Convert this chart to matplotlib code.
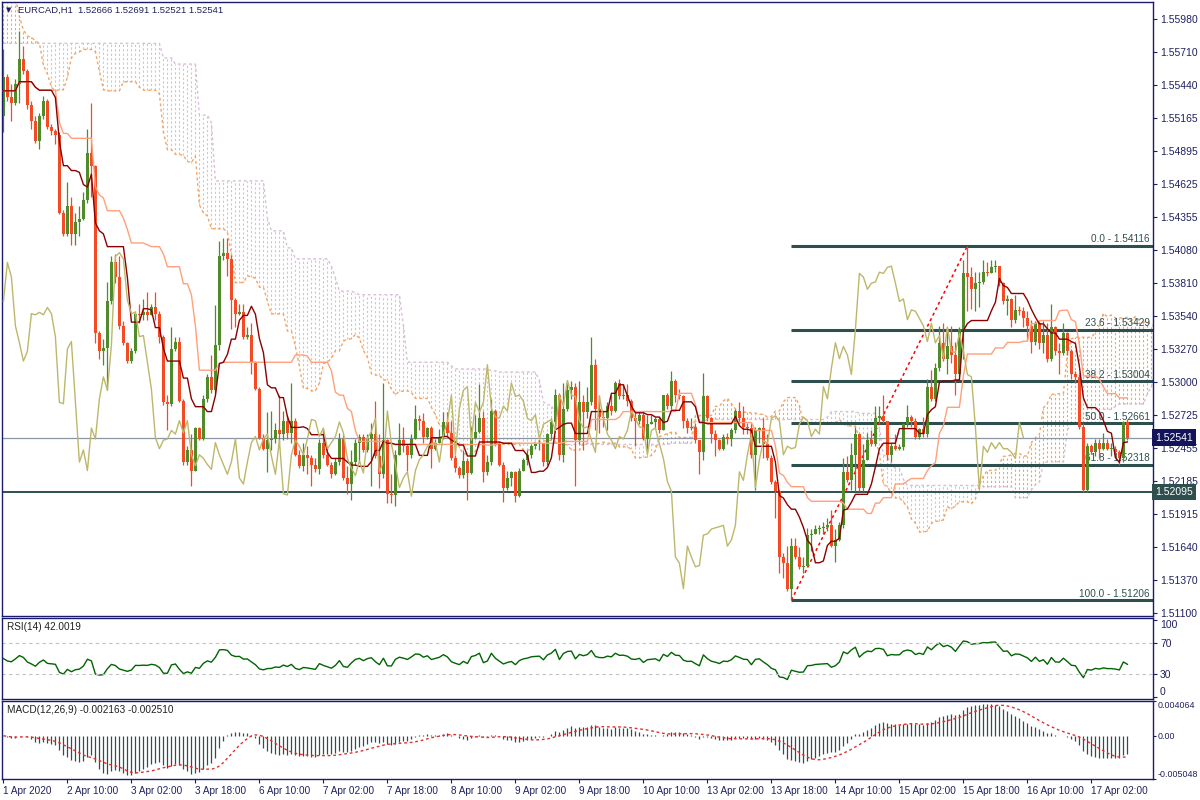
import numpy as np
import pandas as pd
import matplotlib
matplotlib.use("Agg")
import matplotlib.pyplot as plt
import matplotlib.transforms as mtransforms

# =========================================================================================
# EURCAD H1 - prices (one value per hourly bar)
first_open = 1.5518

closes = [
    1.5550, 1.5534, 1.5529, 1.5545, 1.5565, 1.5555, 1.5527, 1.5514, 1.5498, 1.5518,
    1.5531, 1.5509, 1.5506, 1.5503, 1.5439, 1.5421, 1.5444, 1.5421, 1.5431, 1.5434,
    1.5449, 1.5488, 1.5477, 1.5340, 1.5325, 1.5328, 1.5366, 1.5398, 1.5386, 1.5346,
    1.5332, 1.5317, 1.5325, 1.5356, 1.5355, 1.5357, 1.5355, 1.5361, 1.5356, 1.5337,
    1.5283, 1.5282, 1.5327, 1.5333, 1.5284, 1.5234, 1.5244, 1.5227, 1.5262, 1.5253,
    1.5286, 1.5304, 1.5293, 1.5330, 1.5403, 1.5406, 1.5401, 1.5367, 1.5356, 1.5357,
    1.5337, 1.5338, 1.5316, 1.5294, 1.5254, 1.5245, 1.5252, 1.5253, 1.5260, 1.5257,
    1.5268, 1.5258, 1.5268, 1.5240, 1.5231, 1.5240, 1.5237, 1.5232, 1.5228, 1.5250,
    1.5240, 1.5232, 1.5224, 1.5234, 1.5253, 1.5221, 1.5216, 1.5234, 1.5250, 1.5255,
    1.5244, 1.5253, 1.5257, 1.5239, 1.5224, 1.5252, 1.5208, 1.5207, 1.5240, 1.5252,
    1.5247, 1.5240, 1.5253, 1.5269, 1.5268, 1.5255, 1.5262, 1.5245, 1.5250, 1.5255,
    1.5267, 1.5258, 1.5237, 1.5229, 1.5223, 1.5235, 1.5225, 1.5254, 1.5259, 1.5270,
    1.5226, 1.5234, 1.5276, 1.5249, 1.5232, 1.5213, 1.5221, 1.5226, 1.5206, 1.5227,
    1.5236, 1.5240, 1.5247, 1.5249, 1.5250, 1.5234, 1.5257, 1.5267, 1.5289, 1.5240,
    1.5278, 1.5293, 1.5296, 1.5252, 1.5283, 1.5275, 1.5283, 1.5314, 1.5278, 1.5271,
    1.5270, 1.5280, 1.5276, 1.5299, 1.5288, 1.5289, 1.5284, 1.5270, 1.5268, 1.5273,
    1.5253, 1.5265, 1.5267, 1.5269, 1.5260, 1.5289, 1.5280, 1.5301, 1.5289, 1.5288,
    1.5268, 1.5262, 1.5263, 1.5252, 1.5242, 1.5288, 1.5270, 1.5257, 1.5252, 1.5245,
    1.5255, 1.5253, 1.5260, 1.5276, 1.5270, 1.5263, 1.5262, 1.5240, 1.5260, 1.5262,
    1.5249, 1.5237, 1.5218, 1.5210, 1.5156, 1.5151, 1.5130, 1.5165, 1.5156, 1.5148,
    1.5149, 1.5174, 1.5175, 1.5179, 1.5180, 1.5181, 1.5182, 1.5165, 1.5170, 1.5182,
    1.5226, 1.5219, 1.5240, 1.5257, 1.5213, 1.5236, 1.5252, 1.5249, 1.5270, 1.5272,
    1.5268, 1.5240, 1.5247, 1.5245, 1.5246, 1.5265, 1.5271, 1.5268, 1.5255, 1.5261,
    1.5257, 1.5296, 1.5286, 1.5311, 1.5332, 1.5319, 1.5329, 1.5322, 1.5306, 1.5343,
    1.5389, 1.5386, 1.5376, 1.5381, 1.5382, 1.5390, 1.5389, 1.5394, 1.5395, 1.5381,
    1.5366, 1.5368, 1.5351, 1.5359, 1.5358, 1.5352, 1.5346, 1.5333, 1.5348, 1.5332,
    1.5338, 1.5319, 1.5345, 1.5325, 1.5324, 1.5340, 1.5325, 1.5306, 1.5304, 1.5263,
    1.5211, 1.5247, 1.5242, 1.5250, 1.5245, 1.5250, 1.5245, 1.5245, 1.5242, 1.5237,
    1.52666, 1.52541,
]

highs = [
    1.5573, 1.5553, 1.5545, 1.5549, 1.5588, 1.5576, 1.5557, 1.5531, 1.5518, 1.5521,
    1.5535, 1.5532, 1.5512, 1.5508, 1.5505, 1.5441, 1.5464, 1.5452, 1.5439, 1.5444,
    1.5456, 1.5508, 1.5529, 1.5478, 1.5342, 1.5335, 1.5382, 1.5403, 1.5405, 1.5403,
    1.5350, 1.5333, 1.5328, 1.5358, 1.5364, 1.5368, 1.5374, 1.5364, 1.5374, 1.5358,
    1.5338, 1.5289, 1.5345, 1.5337, 1.5337, 1.5286, 1.5247, 1.5257, 1.5263, 1.5263,
    1.5289, 1.5306, 1.5322, 1.5363, 1.5416, 1.5418, 1.5418, 1.5404, 1.5369, 1.5364,
    1.5364, 1.5345, 1.5348, 1.5317, 1.5296, 1.5257, 1.5275, 1.5276, 1.5266, 1.5289,
    1.5276, 1.5273, 1.5299, 1.5270, 1.5244, 1.5250, 1.5247, 1.5240, 1.5237, 1.5253,
    1.5260, 1.5247, 1.5234, 1.5237, 1.5258, 1.5257, 1.5231, 1.5244, 1.5253, 1.5257,
    1.5257, 1.5257, 1.5266, 1.5284, 1.5257, 1.5299, 1.5253, 1.5224, 1.5244, 1.5266,
    1.5263, 1.5249, 1.5257, 1.5281, 1.5273, 1.5274, 1.5263, 1.5264, 1.5253, 1.5261,
    1.5275, 1.5275, 1.5268, 1.5240, 1.5231, 1.5244, 1.5237, 1.5263, 1.5273, 1.5298,
    1.5276, 1.5240, 1.5286, 1.5278, 1.5250, 1.5234, 1.5227, 1.5227, 1.5227, 1.5229,
    1.5237, 1.5244, 1.5249, 1.5250, 1.5252, 1.5250, 1.5258, 1.5270, 1.5294, 1.5291,
    1.5299, 1.5301, 1.5301, 1.5299, 1.5301, 1.5289, 1.5296, 1.5337, 1.5319, 1.5289,
    1.5276, 1.5283, 1.5289, 1.5301, 1.5302, 1.5298, 1.5298, 1.5286, 1.5275, 1.5276,
    1.5275, 1.5273, 1.5273, 1.5271, 1.5271, 1.5289, 1.5291, 1.5309, 1.5302, 1.5294,
    1.5289, 1.5270, 1.5270, 1.5266, 1.5247, 1.5307, 1.5289, 1.5271, 1.5260, 1.5253,
    1.5257, 1.5258, 1.5262, 1.5278, 1.5283, 1.5280, 1.5266, 1.5266, 1.5263, 1.5263,
    1.5270, 1.5257, 1.5240, 1.5219, 1.5211, 1.5159, 1.5165, 1.5172, 1.5172, 1.5164,
    1.5156, 1.5180, 1.5179, 1.5182, 1.5182, 1.5185, 1.5188, 1.5195, 1.5179, 1.5185,
    1.5237, 1.5239, 1.5250, 1.5263, 1.5258, 1.5249, 1.5258, 1.5260, 1.5280, 1.5280,
    1.5289, 1.5268, 1.5250, 1.5257, 1.5249, 1.5266, 1.5281, 1.5273, 1.5270, 1.5262,
    1.5271, 1.5302, 1.5310, 1.5315, 1.5346, 1.5348, 1.5345, 1.5346, 1.5333, 1.5345,
    1.5400, 1.54116, 1.5394, 1.5390, 1.5390, 1.5400, 1.5398, 1.5400, 1.5400, 1.5395,
    1.5382, 1.5371, 1.5369, 1.5371, 1.5362, 1.5361, 1.5358, 1.5351, 1.5350, 1.5350,
    1.5350, 1.5348, 1.5364, 1.5346, 1.5332, 1.5348, 1.5341, 1.5327, 1.5309, 1.5306,
    1.5266, 1.5250, 1.5249, 1.5253, 1.5253, 1.5258, 1.5253, 1.5250, 1.5247, 1.5244,
    1.5268, 1.52691,
]

lows = [
    1.5505, 1.5531, 1.5514, 1.5527, 1.5529, 1.5553, 1.5524, 1.5508, 1.5496, 1.5491,
    1.5516, 1.5508, 1.5503, 1.5495, 1.5438, 1.5420, 1.5420, 1.5412, 1.5412, 1.5420,
    1.5433, 1.5447, 1.5452, 1.5332, 1.5319, 1.5314, 1.5293, 1.5364, 1.5381, 1.5343,
    1.5330, 1.5315, 1.5315, 1.5324, 1.5348, 1.5351, 1.5351, 1.5356, 1.5351, 1.5332,
    1.5281, 1.5260, 1.5280, 1.5325, 1.5283, 1.5232, 1.5232, 1.5214, 1.5227, 1.5252,
    1.5252, 1.5283, 1.5291, 1.5291, 1.5326, 1.5400, 1.5387, 1.5343, 1.5345, 1.5355,
    1.5335, 1.5335, 1.5306, 1.5293, 1.5253, 1.5244, 1.5226, 1.5244, 1.5250, 1.5250,
    1.5252, 1.5253, 1.5250, 1.5239, 1.5229, 1.5227, 1.5224, 1.5214, 1.5226, 1.5224,
    1.5237, 1.5231, 1.5221, 1.5223, 1.5232, 1.5219, 1.5208, 1.5203, 1.5232, 1.5234,
    1.5242, 1.5242, 1.5214, 1.5237, 1.5213, 1.5221, 1.5200, 1.5200, 1.5198, 1.5240,
    1.5242, 1.5227, 1.5237, 1.5257, 1.5260, 1.5250, 1.5253, 1.5229, 1.5244, 1.5250,
    1.5253, 1.5255, 1.5236, 1.5226, 1.5221, 1.5221, 1.5203, 1.5224, 1.5253, 1.5258,
    1.5218, 1.5223, 1.5232, 1.5247, 1.5231, 1.5201, 1.5211, 1.5214, 1.5201, 1.5205,
    1.5227, 1.5232, 1.5237, 1.5245, 1.5244, 1.5231, 1.5232, 1.5253, 1.5263, 1.5236,
    1.5234, 1.5276, 1.5286, 1.5214, 1.5249, 1.5244, 1.5270, 1.5281, 1.5260, 1.5258,
    1.5263, 1.5260, 1.5273, 1.5275, 1.5286, 1.5286, 1.5280, 1.5268, 1.5247, 1.5265,
    1.5252, 1.5244, 1.5265, 1.5262, 1.5258, 1.5260, 1.5278, 1.5278, 1.5283, 1.5286,
    1.5262, 1.5258, 1.5260, 1.5250, 1.5224, 1.5236, 1.5268, 1.5250, 1.5239, 1.5244,
    1.5244, 1.5249, 1.5247, 1.5258, 1.5265, 1.5257, 1.5257, 1.5237, 1.5211, 1.5250,
    1.5237, 1.5236, 1.5216, 1.5188, 1.5143, 1.5139, 1.5128, 1.51206, 1.5154, 1.5146,
    1.5143, 1.5148, 1.5161, 1.5175, 1.5175, 1.5175, 1.5177, 1.5164, 1.5152, 1.5169,
    1.5180, 1.5218, 1.5211, 1.5210, 1.5210, 1.5210, 1.5236, 1.5247, 1.5247, 1.5265,
    1.5266, 1.5236, 1.5234, 1.5244, 1.5244, 1.5244, 1.5263, 1.5263, 1.5253, 1.5253,
    1.5255, 1.5255, 1.5284, 1.5284, 1.5309, 1.5317, 1.5306, 1.5315, 1.5289, 1.5305,
    1.5319, 1.5358, 1.5360, 1.5358, 1.5361, 1.5380, 1.5387, 1.5389, 1.5390, 1.5379,
    1.5364, 1.5355, 1.5345, 1.5348, 1.5355, 1.5345, 1.5334, 1.5324, 1.5330, 1.5327,
    1.5324, 1.5316, 1.5317, 1.5322, 1.5306, 1.5322, 1.5322, 1.5302, 1.5299, 1.5261,
    1.52095, 1.52095, 1.5241, 1.5239, 1.5237, 1.5244, 1.5244, 1.5239, 1.5238, 1.5232,
    1.5234, 1.52521,
]

# cloud edges at the left of the window (they come from bars before the first one shown)
span_a_start = [
    1.5620, 1.5620, 1.5620, 1.5615, 1.5600, 1.5589, 1.5584, 1.5583, 1.5580, 1.5578,
    1.5560, 1.5553, 1.5542, 1.5539, 1.5540, 1.5540, 1.5550, 1.5566, 1.5570, 1.5571,
    1.5573, 1.5573, 1.5573, 1.5571, 1.5555, 1.5540,
]
span_b_start = [
    1.5578, 1.5578, 1.5578, 1.5578, 1.5578, 1.5578, 1.5578, 1.5578, 1.5578, 1.5578,
    1.5578, 1.5578, 1.5578, 1.5578, 1.5578, 1.5578, 1.5578, 1.5578, 1.5578, 1.5578,
    1.5578, 1.5578, 1.5578, 1.5578, 1.5578, 1.5578, 1.5578, 1.5578, 1.5578, 1.5578,
    1.5578, 1.5578, 1.5578, 1.5578, 1.5578, 1.5578, 1.5578, 1.5578, 1.5578, 1.5578,
    1.5566, 1.5566, 1.5566, 1.5561, 1.5561, 1.5561, 1.5561, 1.5561, 1.5561, 1.5519,
    1.5519, 1.5519, 1.5513, 1.5465, 1.5465, 1.5465, 1.5465, 1.5465, 1.5465, 1.5465,
    1.5465, 1.5465, 1.5465, 1.5465, 1.5465, 1.5465,
]

# axis labels
date_labels = ["1 Apr 2020", "2 Apr 10:00", "3 Apr 02:00", "3 Apr 18:00", "6 Apr 10:00",
               "7 Apr 02:00", "7 Apr 18:00", "8 Apr 10:00", "9 Apr 02:00", "9 Apr 18:00",
               "10 Apr 10:00", "13 Apr 02:00", "13 Apr 18:00", "14 Apr 10:00", "15 Apr 02:00",
               "15 Apr 18:00", "16 Apr 10:00", "17 Apr 02:00"]
date_bars = [0, 16, 32, 48, 64, 80, 96, 112, 128, 144, 160, 176, 192, 208, 224, 240, 256, 272]
price_ticks = [1.55980, 1.55710, 1.55440, 1.55165, 1.54895, 1.54625, 1.54355, 1.54080,
               1.53810, 1.53540, 1.53270, 1.53000, 1.52725, 1.52455, 1.52185, 1.51915,
               1.51640, 1.51370, 1.51100]

# fibonacci retracement drawn from the 13 Apr low to the 15 Apr high
fib_levels = [0.0, 23.6, 38.2, 50.0, 61.8, 100.0]
fib_prices = [1.54116, 1.53429, 1.53004, 1.52661, 1.52318, 1.51206]
fib_low_bar = 197
fib_high_bar = 241
support_price = 1.52095

header = "EURCAD,H1  1.52666 1.52691 1.52521 1.52541"
rsi_title = "RSI(14) 42.0019"
macd_title = "MACD(12,26,9) -0.002163 -0.002510"
macd_ticks = [0.004064, 0.0, -0.005048]
macd_tick_labels = ["0.004064", "0.00", "-0.005048"]

# =========================================================================================
# indicators
hi = pd.Series(highs)
lo = pd.Series(lows)
cl = pd.Series(closes)
n = len(closes)

tenkan = (hi.rolling(9, min_periods=1).max() + lo.rolling(9, min_periods=1).min()) / 2
kijun = (hi.rolling(26, min_periods=1).max() + lo.rolling(26, min_periods=1).min()) / 2
span_a = (tenkan + kijun) / 2
span_b = (hi.rolling(52, min_periods=1).max() + lo.rolling(52, min_periods=1).min()) / 2

# spans are drawn 26 bars ahead; the first positions use the values
a = np.concatenate([span_a_start, span_a.values])
nb = len(span_b_start)
b = np.concatenate([span_b_start, span_b.values[nb - 26:]])
xs = np.arange(len(a))

# Wilder RSI, started from a neutral state (no history before the first bar)
chg = np.diff(closes)
seed = np.mean(np.abs(chg[:14])) / 2
avg_g, avg_l = seed, seed
rsi = [50.0]
for d in chg:
    avg_g = (avg_g * 13 + max(d, 0)) / 14
    avg_l = (avg_l * 13 + max(-d, 0)) / 14
    rsi.append(100 - 100 / (1 + avg_g / avg_l))

macd = cl.ewm(span=12, adjust=False).mean() - cl.ewm(span=26, adjust=False).mean()
signal = macd.rolling(9, min_periods=1).mean()

# =========================================================================================
BULL = "#4f8a2b"
BEAR = "#f44b25"
NAVY = "#1b1b6e"
TXT = "#1f2160"
SLATE = "#2f4f4f"
plt.rcParams['font.family'] = ['Liberation Sans', 'DejaVu Sans']

fig = plt.figure(figsize=(12, 8), dpi=100)
fig.patch.set_facecolor("white")
ax = fig.add_axes([2 / 1200, 1 - 616 / 800, 1151 / 1200, 614 / 800])
ax_rsi = fig.add_axes([2 / 1200, 1 - 699 / 800, 1151 / 1200, 81 / 800])
ax_macd = fig.add_axes([2 / 1200, 1 - 779 / 800, 1151 / 1200, 78 / 800])

x_left, x_right = -0.35, 287.4
x = np.arange(n)

# --- ichimoku cloud (vertical dotted hatch between the spans) ---
cloud_col = np.where(a >= b, "#f4a460", "#d8bfd8")
ax.vlines(xs, np.minimum(a, b), np.maximum(a, b), colors=cloud_col,
          linestyles=(0, (2, 2)), lw=0.8, zorder=1)
ax.plot(xs, a, color="#f4a460", ls=(0, (2, 2)), lw=1.0, zorder=1.2)
ax.plot(xs, b, color="#d8bfd8", ls=(0, (2, 2)), lw=1.0, zorder=1.2)

# --- horizontal lines and fibo ---
ax.axhline(closes[-1], color="#8a96a3", lw=0.9, zorder=1.3)
ax.axhline(support_price, color=SLATE, lw=1.4, zorder=1.3)
ax.hlines(fib_prices, fib_low_bar, x_right, colors=SLATE, lw=2.2, zorder=1.4)
ax.plot([fib_low_bar, fib_high_bar], [fib_prices[-1], fib_prices[0]], color="red",
        ls=(0, (2, 2)), lw=1.1, zorder=1.5)
for lvl, p in zip(fib_levels, fib_prices):
    ax.text(x_right - 0.8, p + 0.00012, f"{lvl:.1f} - {p:.5f}", ha="right", va="bottom",
            fontsize=7.2, color=SLATE, zorder=1.5)

# --- candles ---
o = np.array([first_open] + closes[:-1])
c = np.array(closes)
h = np.array(highs)
l = np.array(lows)
col = np.where(c >= o, BULL, BEAR)
ax.vlines(x, np.minimum(l, np.minimum(o, c)), np.maximum(h, np.maximum(o, c)),
          colors=col, lw=0.9, zorder=2)
ax.bar(x, np.maximum(np.abs(c - o), 0.00002), bottom=np.minimum(o, c), width=0.72,
       color=col, lw=0, zorder=2)

# --- ichimoku lines ---
ax.plot(x, kijun, color="#ffa07a", lw=1.0, zorder=3)
ax.plot(x, tenkan, color="#8b0000", lw=1.0, zorder=3)
ax.plot(x[:-26], closes[26:], color="#bdb76b", lw=1.0, zorder=3)

ax.set_xlim(x_left, x_right)
ax.set_ylim(1.510756, 1.561197)
ax.set_yticks(price_ticks)
ax.set_yticklabels([f"{p:.5f}" for p in price_ticks])

# price boxes on the right scale
trans = mtransforms.blended_transform_factory(ax.transAxes, ax.transData)
ax.text(1.002, closes[-1], f"{closes[-1]:.5f}", transform=trans, ha="left", va="center",
        fontsize=7.5, color="white", zorder=5, clip_on=False,
        bbox=dict(boxstyle="square,pad=0.3", fc="#14145a", ec="none"))
ax.text(1.002, support_price, f"{support_price:.5f}", transform=trans, ha="left",
        va="center", fontsize=7.5, color="white", zorder=5, clip_on=False,
        bbox=dict(boxstyle="square,pad=0.3", fc=SLATE, ec="none"))

fig.text(6 / 1200, 1 - 10 / 800, "\u25bc", fontsize=5, color=NAVY, va="center",
         family="DejaVu Sans")
fig.text(18 / 1200, 1 - 10 / 800, header, fontsize=6.8, color=TXT, va="center")

# --- RSI ---
ax_rsi.plot(x, rsi, color="#006400", lw=1.0)
for lv in (70, 30):
    ax_rsi.axhline(lv, color="#c0c0c0", lw=0.8, ls=(0, (3, 3)))
ax_rsi.set_xlim(x_left, x_right)
ax_rsi.set_ylim(-2.3, 102.3)
ax_rsi.set_yticks([100, 70, 30, 0])
ax_rsi.set_yticklabels(["100", "70", "30", "0"])
ax_rsi.text(5 / 1151, 0.89, rsi_title, transform=ax_rsi.transAxes, fontsize=7.2,
            color="#202020", va="center")

# --- MACD ---
ax_macd.vlines(x, 0, macd, colors=SLATE, lw=0.9)
ax_macd.plot(x, signal, color="#e03030", ls=(0, (2, 2)), lw=1.0)
ax_macd.set_xlim(x_left, x_right)
ax_macd.set_ylim(-0.005048, 0.004064)
ax_macd.set_yticks(macd_ticks)
ax_macd.set_yticklabels(macd_tick_labels)
ax_macd.text(5 / 1151, 0.88, macd_title, transform=ax_macd.transAxes, fontsize=7.2,
             color="#202020", va="center")
ax_macd.set_xticks(date_bars)
ax_macd.set_xticklabels(date_labels, ha="left")

for a_ in (ax, ax_rsi, ax_macd):
    for sp in a_.spines.values():
        sp.set_color(NAVY)
        sp.set_linewidth(1.0)
    a_.yaxis.tick_right()
    a_.tick_params(axis="y", direction="out", length=3, width=0.8, colors=NAVY,
                   labelcolor=TXT, labelsize=7.5, pad=2)
    a_.set_facecolor("white")
ax.tick_params(axis="x", bottom=False, labelbottom=False)
ax_rsi.tick_params(axis="x", bottom=False, labelbottom=False)
ax_macd.tick_params(axis="x", direction="out", length=3, width=0.8, colors=NAVY,
                    labelcolor=TXT, labelsize=7.2, pad=2)
ax_macd.tick_params(axis="y", length=2, pad=1, labelsize=6.4)

# min / max labels of the sub-windows sit inside the panel, as in the terminal
rsi_lbls = ax_rsi.get_yticklabels()
rsi_lbls[0].set_va("top")
rsi_lbls[-1].set_va("bottom")
macd_lbls = ax_macd.get_yticklabels()
macd_lbls[0].set_va("top")
macd_lbls[-1].set_va("bottom")

fig.savefig("out.png", dpi=100)
